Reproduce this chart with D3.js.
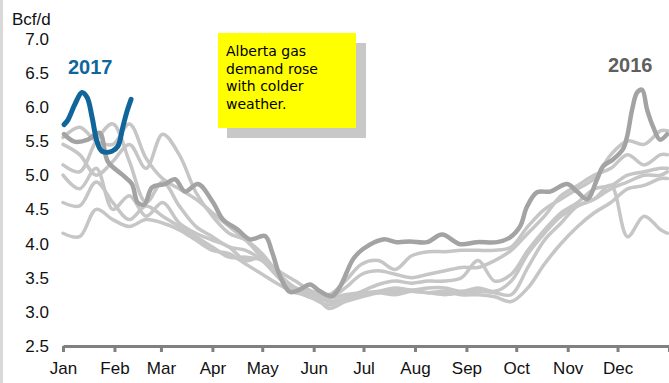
<!DOCTYPE html>
<html>
<head>
<meta charset="utf-8">
<script src="https://cdn.jsdelivr.net/npm/d3@7"></script>
<style>
  body { margin: 0; background: #fff; }
  svg { display: block; font-family: Arial, "Liberation Sans", sans-serif; }
</style>
</head>
<body>
<div id="chart"></div>
<script>
// day of year for the older (light gray) years
var days = [0,10,20,30,40,50,60,70,80,90,100,110,120,130,140,150,160,170,180,190,200,210,220,230,240,250,260,270,280,290,300,310,320,330,340,350,360,364];

var year2010 = [5.55,5.70,5.50,5.45,5.75,5.25,4.95,4.80,4.65,4.45,4.25,4.05,3.80,3.60,3.45,3.30,3.25,3.45,3.70,3.75,3.62,3.82,3.88,3.88,3.90,3.90,3.90,3.95,4.25,4.50,4.65,4.80,4.95,5.30,5.50,5.45,5.65,5.65];
var year2011 = [5.45,5.30,5.00,5.20,5.45,5.10,5.60,5.30,4.75,4.40,4.15,4.05,3.85,3.55,3.35,3.25,3.20,3.35,3.55,3.60,3.55,3.50,3.55,3.60,3.65,3.65,3.75,3.90,4.15,4.40,4.70,4.85,5.00,5.10,5.30,5.15,5.30,5.30];
var year2012 = [5.15,5.05,5.50,5.75,5.20,4.60,4.90,4.55,4.25,4.10,3.95,3.90,3.75,3.50,3.30,3.20,3.10,3.20,3.30,3.40,3.45,3.42,3.45,3.45,3.50,3.75,3.45,3.55,3.90,4.20,4.45,4.60,4.80,4.85,5.00,5.05,5.10,5.10];
var year2013 = [5.00,4.80,5.10,4.50,4.70,4.40,4.60,4.30,4.15,4.05,3.95,3.75,3.80,3.55,3.35,3.30,3.20,3.25,3.28,3.30,3.35,3.32,3.35,3.35,3.30,3.35,3.30,3.45,3.85,4.15,4.40,4.55,4.65,4.80,4.90,5.00,5.00,5.05];
var year2014 = [4.60,4.55,4.90,4.60,4.35,4.55,4.40,4.25,4.10,3.95,3.80,3.80,3.75,3.50,3.30,3.28,3.05,3.15,3.22,3.28,3.30,3.30,3.28,3.25,3.28,3.30,3.28,3.25,3.65,4.05,4.30,4.55,4.65,4.85,4.10,4.40,4.20,4.15];
var year2015 = [4.15,4.10,4.50,4.35,4.25,4.35,4.30,4.20,4.05,3.90,3.85,3.70,3.55,3.40,3.28,3.25,3.15,3.20,3.25,3.28,3.25,3.30,3.28,3.30,3.25,3.25,3.22,3.15,3.35,3.70,4.00,4.25,4.45,4.60,4.80,4.85,4.95,4.95];

var days2016 = [0.6,7,15,22,27,35.5,41.5,45,49,53.6,61.4,67.5,73.5,81.3,90.4,96.4,104.8,112.7,121.7,126,130.7,136.7,142.8,148.8,154.8,162,166.9,174.7,180.7,192.8,201.2,209,219.3,228.3,239.2,249.4,261.4,269.3,275.3,279.5,285.5,293.4,303.6,309.6,315.7,321.7,325.3,331.3,337.3,339.8,342.8,345.8,348.8,351.8,355.4,359.6,363.9];
var year2016 = [5.60,5.49,5.52,5.62,5.20,5.01,4.87,4.60,4.57,4.82,4.87,4.94,4.76,4.87,4.60,4.35,4.21,4.06,4.11,3.87,3.52,3.29,3.33,3.40,3.30,3.23,3.37,3.77,3.92,4.06,4.02,4.03,4.02,4.13,3.99,4.02,4.02,4.09,4.25,4.54,4.75,4.76,4.87,4.76,4.65,4.94,5.13,5.23,5.38,5.57,5.96,6.21,6.25,5.96,5.71,5.52,5.60];

var days2017 = [0.6,3,7.2,11.4,14.5,17.5,20.5,23.5,29.5,33,36,38.5,41];
var year2017 = [5.74,5.81,6.04,6.21,6.14,5.85,5.49,5.35,5.35,5.42,5.70,5.93,6.11];

var yTicks = [2.5,3.0,3.5,4.0,4.5,5.0,5.5,6.0,6.5,7.0];
var noteLines = ["Alberta gas", "demand rose", "with colder", "weather."];

var width = 669, height = 383;
var base = new Date(2015, 0, 1), end = new Date(2016, 0, 1);
function toDate(d) { return new Date(base.getTime() + d * 864e5); }

var svg = d3.select("#chart").append("svg")
    .attr("width", width)
    .attr("height", height);

// thin gray strip on the left edge
svg.append("rect").attr("x", 0).attr("y", 0).attr("width", 3).attr("height", height).attr("fill", "#d9d9d9");

var x = d3.scaleTime().domain([base, end]).range([63, 669]);
var y = d3.scaleLinear().domain([2.5, 7.0]).range([346, 38.5]);

// y labels (no axis line in the original)
svg.append("g").selectAll("text").data(yTicks).enter().append("text")
    .attr("x", 49).attr("y", function(d) { return y(d); })
    .attr("dy", "0.36em")
    .attr("text-anchor", "end")
    .style("font-size", "17px").attr("fill", "#111")
    .text(function(d) { return d3.format(".1f")(d); });

svg.append("text").attr("x", 12).attr("y", 25)
    .style("font-size", "17px").attr("fill", "#111").text("Bcf/d");

// x axis
var months = d3.timeMonth.range(base, end).concat([end]);
var xAxis = svg.append("g")
    .attr("transform", "translate(0,346)")
    .call(d3.axisBottom(x).tickValues(months).tickSize(6).tickSizeOuter(0).tickPadding(10)
        .tickFormat(function(d) { return +d === +end ? "" : d3.timeFormat("%b")(d); }));
xAxis.select(".domain").attr("stroke", "#808080").attr("stroke-width", 3);
xAxis.selectAll(".tick line").attr("stroke", "#808080").attr("stroke-width", 3);
xAxis.selectAll(".tick text").style("font-size", "17px").style("font-family", "Arial, 'Liberation Sans', sans-serif").attr("fill", "#111");

var line = d3.line()
    .x(function(d) { return x(toDate(d[0])); })
    .y(function(d) { return y(d[1]); })
    .curve(d3.curveCatmullRom);

function pairs(ds, vs) { return ds.map(function(d, i) { return [d, vs[i]]; }); }

var older = [year2010, year2011, year2012, year2013, year2014, year2015];
svg.append("g").selectAll("path").data(older).enter().append("path")
    .attr("d", function(vs) { return line(pairs(days, vs)); })
    .attr("fill", "none").attr("stroke", "#c6c6c6")
    .attr("stroke-width", 3.5).attr("stroke-linejoin", "round").attr("stroke-linecap", "round");

svg.append("path")
    .attr("d", line(pairs(days2016, year2016)))
    .attr("fill", "none").attr("stroke", "#a3a3a3")
    .attr("stroke-width", 4.5).attr("stroke-linejoin", "round").attr("stroke-linecap", "round");

svg.append("path")
    .attr("d", line(pairs(days2017, year2017)))
    .attr("fill", "none").attr("stroke", "#10669a")
    .attr("stroke-width", 5).attr("stroke-linejoin", "round").attr("stroke-linecap", "round");

svg.append("text").attr("x", 68).attr("y", 74)
    .style("font-size", "20px").style("font-weight", "bold").attr("fill", "#10669a").text("2017");
svg.append("text").attr("x", 608).attr("y", 72)
    .style("font-size", "20px").style("font-weight", "bold").attr("fill", "#5f5f5f").text("2016");

// annotation box with shadow
var note = svg.append("g");
note.append("rect").attr("x", 227).attr("y", 43).attr("width", 139).attr("height", 95).attr("fill", "#c8c8c8");
note.append("rect").attr("x", 218).attr("y", 33).attr("width", 138).attr("height", 95).attr("fill", "#ffff00");
note.selectAll("text").data(noteLines).enter().append("text")
    .attr("x", 226).attr("y", function(d, i) { return 56 + i * 17.5; })
    .style("font-family", "'Comic Sans MS', 'DejaVu Sans', sans-serif")
    .style("font-size", "14px").attr("fill", "#000")
    .text(function(d) { return d; });
</script>
</body>
</html>
